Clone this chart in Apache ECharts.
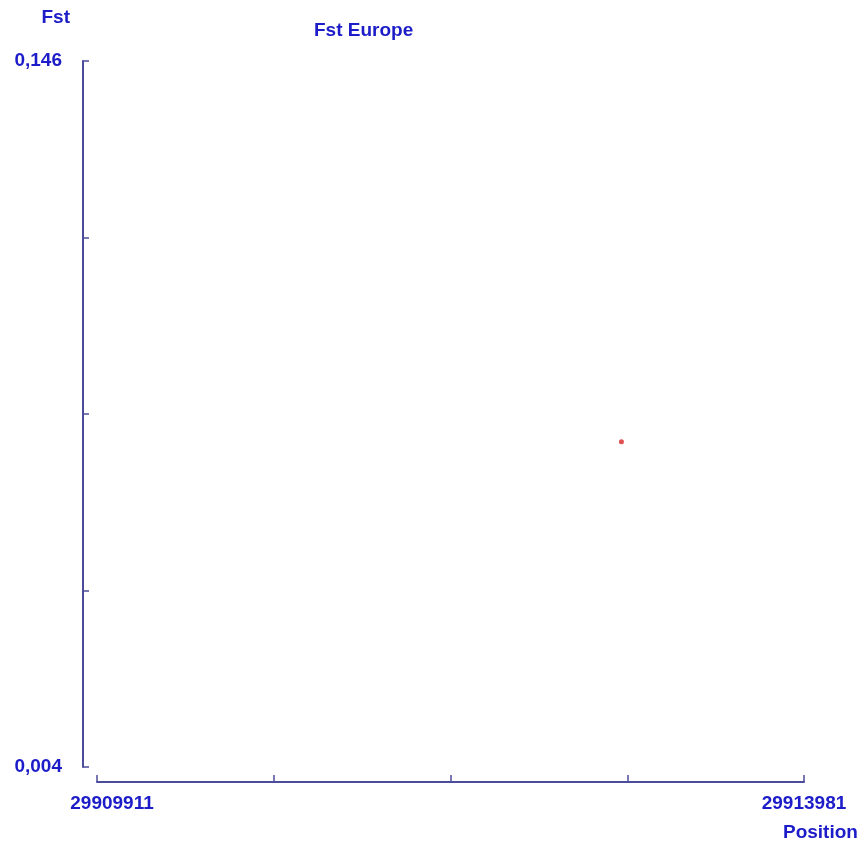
<!DOCTYPE html>
<html><head><meta charset="utf-8">
<script src="https://cdn.jsdelivr.net/npm/echarts@6/dist/echarts.min.js"></script>
<style>html,body{margin:0;padding:0;background:#fff}#c{width:866px;height:845px}</style>
</head><body><div id="c"></div>
<script>
const titleText = 'Fst Europe';
const xName = 'Position';
const yName = 'Fst';
const xMin = 29909911, xMax = 29913981;
const yMin = 0.004, yMax = 0.146;
const positions = [29912930];
const fstValues = [0.0694];

const txt = '#1c1cc8', axc = '#4c4c9c';
const font = {fontFamily: 'Liberation Sans', fontWeight: 'bold', fontSize: 19, color: txt};
const chart = echarts.init(document.getElementById('c'));
chart.setOption({
  animation: false,
  title: {text: titleText, left: 309, top: 16, textStyle: Object.assign({}, font)},
  grid: {left: 97, right: 62, top: 61, bottom: 78},
  xAxis: {
    type: 'value', min: xMin, max: xMax, interval: (xMax - xMin) / 4,
    offset: 15,
    name: xName, nameLocation: 'end', nameGap: -21,
    nameTextStyle: Object.assign({}, font, {align: 'left', verticalAlign: 'top', padding: [41, 0, 0, 0]}),
    axisLine: {lineStyle: {color: axc, width: 2}},
    axisTick: {inside: true, length: 7, lineStyle: {color: axc, width: 1.5}},
    splitLine: {show: false},
    axisLabel: Object.assign({}, font, {
      margin: 12,
      formatter: v => (Math.abs(v - xMin) < 1e-6) ? '{a|' + xMin + '}' : (Math.abs(v - xMax) < 1e-6 ? String(xMax) : ''),
      rich: {a: Object.assign({}, font, {padding: [0, 0, 0, 30]})}
    })
  },
  yAxis: {
    type: 'value', min: yMin, max: yMax, interval: (yMax - yMin) / 4,
    offset: 14,
    name: yName, nameLocation: 'end', nameGap: 34,
    nameTextStyle: Object.assign({}, font, {align: 'right', padding: [0, 13, 0, 0]}),
    axisLine: {show: true, lineStyle: {color: axc, width: 2}},
    axisTick: {show: true, inside: true, length: 6, lineStyle: {color: axc, width: 1.5}},
    splitLine: {show: false},
    axisLabel: Object.assign({}, font, {
      margin: 21,
      formatter: v => (Math.abs(v - yMin) < 1e-9 || Math.abs(v - yMax) < 1e-9) ? v.toFixed(3).replace('.', ',') : ''
    })
  },
  series: [{
    type: 'scatter', symbol: 'circle', symbolSize: 5,
    itemStyle: {color: '#d82424'},
    data: positions.map((p, i) => [p, fstValues[i]])
  }]
});
</script></body></html>
